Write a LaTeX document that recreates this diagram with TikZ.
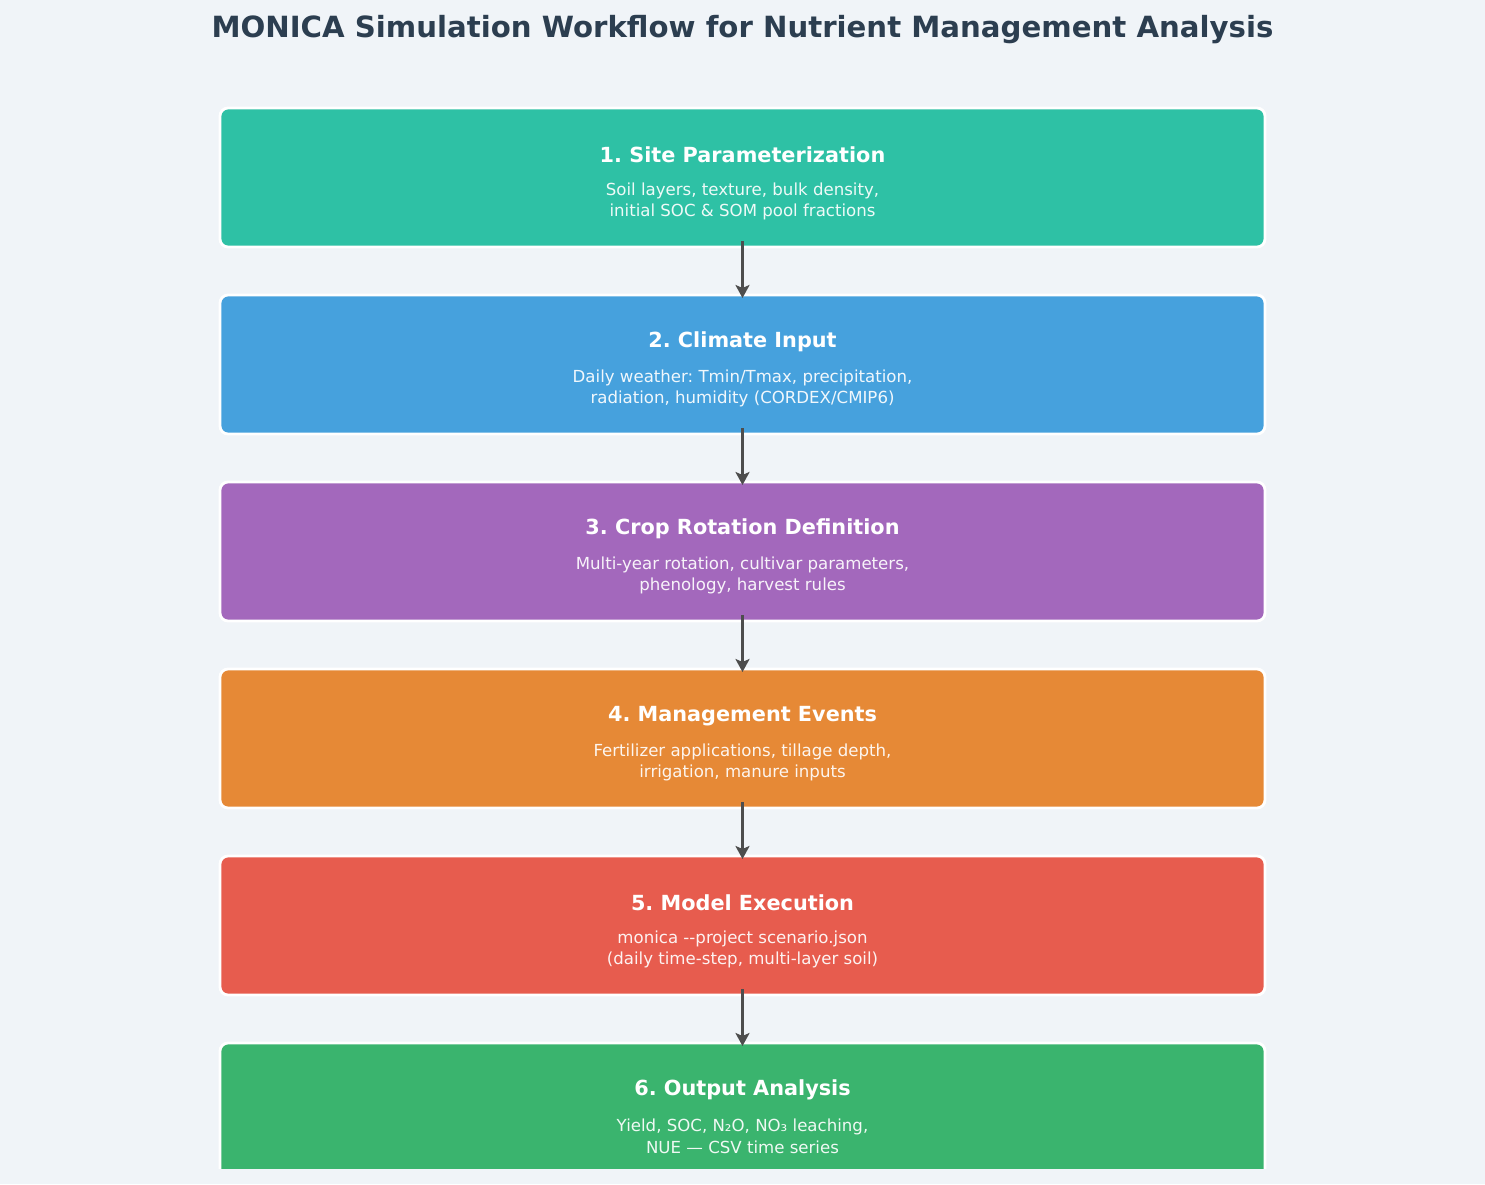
\documentclass[tikz,border=0pt]{standalone}
\usepackage{fontspec}
\setmainfont{DejaVu Sans}
\usepackage{tikz}
\usetikzlibrary{arrows.meta}
\frenchspacing
\definecolor{bgc}{HTML}{F0F4F8}
\definecolor{ttl}{HTML}{2C3E50}
\definecolor{cSite}{HTML}{1ABC9C}
\definecolor{cClim}{HTML}{3498DB}
\definecolor{cCrop}{HTML}{9B59B6}
\definecolor{cMgmt}{HTML}{E67E22}
\definecolor{cExec}{HTML}{E74C3C}
\definecolor{cOut}{HTML}{27AE60}
\definecolor{arrc}{HTML}{4D4D4D}
\tikzset{
    stage/.style={rectangle, rounded corners=8pt, minimum width=1045pt, minimum height=139pt,
        draw=white, line width=2.8pt, fill opacity=0.9, outer sep=0pt, inner sep=0pt},
    head/.style={text=white, font=\bfseries\fontsize{20.8}{25}\selectfont},
    body/.style={text=white, text opacity=0.92, align=center, font=\fontsize{16.6}{21.5}\selectfont},
    flow/.style={arrc, line width=3.4pt, -{Stealth[length=13pt,width=14pt,inset=3pt]},
        shorten <=-6pt, shorten >=-3pt}
}
\begin{document}
\begin{tikzpicture}[x=1pt, y=-1pt]

    \fill[bgc] (0,0) rectangle (1485,1184);
    \useasboundingbox (0,0) rectangle (1485,1184);

    \node (title) at (742.5, 30) {\fontsize{29.2}{34}\selectfont\bfseries\color{ttl}MONICA Simulation Workflow for Nutrient Management Analysis};

    \begin{scope}
    \clip (0,0) rectangle (1485,1168);
    \node[stage, fill=cSite] (site) at (742.5, 177.5) {};
    \node[stage, fill=cClim] (clim) at (742.5, 364.5) {};
    \node[stage, fill=cCrop] (crop) at (742.5, 551.5) {};
    \node[stage, fill=cMgmt] (mgmt) at (742.5, 738.5) {};
    \node[stage, fill=cExec] (exec) at (742.5, 925.5) {};
    \node[stage, fill=cOut] (out) at (742.5, 1112.5) {};

    \node[head] (site-h) at (742.5, 155) {1. Site Parameterization};
    \node[head] (clim-h) at (742.5, 342) {2. Climate Input};
    \node[head] (crop-h) at (742.5, 529) {3. Crop Rotation Definition};
    \node[head] (mgmt-h) at (742.5, 716) {4. Management Events};
    \node[head] (exec-h) at (742.5, 903) {5. Model Execution};
    \node[head] (out-h) at (742.5, 1090) {6. Output Analysis};

    \node[body] (site-b) at (742.5, 201.5) {Soil layers, texture, bulk density,\\initial SOC \& SOM pool fractions};
    \node[body] (clim-b) at (742.5, 388.5) {Daily weather: Tmin/Tmax, precipitation,\\radiation, humidity (CORDEX/CMIP6)};
    \node[body] (crop-b) at (742.5, 575.5) {Multi-year rotation, cultivar parameters,\\phenology, harvest rules};
    \node[body] (mgmt-b) at (742.5, 762.5) {Fertilizer applications, tillage depth,\\irrigation, manure inputs};
    \node[body] (exec-b) at (742.5, 949.5) {monica -{}-project scenario.json\\(daily time-step, multi-layer soil)};
    \node[body] (out-b) at (742.5, 1136.5) {Yield, SOC, N₂O, NO₃ leaching,\\NUE — CSV time series};

    \draw [flow] (site) to (clim);
    \draw [flow] (clim) to (crop);
    \draw [flow] (crop) to (mgmt);
    \draw [flow] (mgmt) to (exec);
    \draw [flow] (exec) to (out);
    \end{scope}

\end{tikzpicture}
\end{document}
